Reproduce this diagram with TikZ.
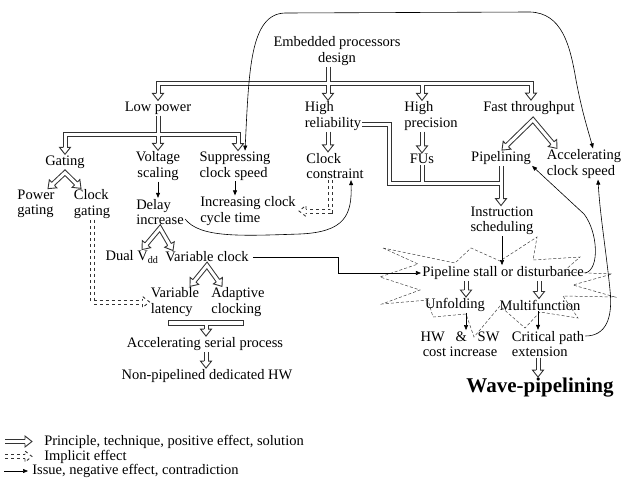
\documentclass[tikz,border=0pt]{standalone}
\usepackage{fontspec}
\setmainfont{Liberation Serif}
\usetikzlibrary{arrows.meta, calc}
\newcommand{\blk}[3][]{%
  \draw[dbl, #1, shorten >=4pt] #2 -- #3;
  \path let \p1=($#3-#2$) in pic[rotate={atan2(\y1,\x1)}, #1] at #3 {hhead};}
\newcommand{\fork}[3]{%
  \draw[dbl, shorten <=4pt, shorten >=4pt] #2 -- #1 -- #3;
  \path let \p1=($#2-#1$) in pic[rotate={atan2(\y1,\x1)}] at #2 {hhead};
  \path let \p1=($#3-#1$) in pic[rotate={atan2(\y1,\x1)}] at #3 {hhead};}

\begin{document}
\begin{tikzpicture}[x=1pt, y=-1pt, >={Triangle[length=5pt, width=4pt]}, line width=0.6pt,
    every node/.style={font=\fontsize{14.5}{15.5}\selectfont, inner sep=1pt, align=center},
    dbl/.style={draw=black!80, double=white, line width=1pt, double distance=3pt},
    hollowtip/.style={draw=black!80, fill=white, line width=0.9pt},
    barbox/.style={draw=black!80, line width=0.9pt},
    burst/.style={draw=black!75, dash pattern=on 3pt off 2pt, line width=0.5pt},
    hhead/.pic={\draw[hollowtip] (-7,2) -- (-7,5.5) -- (0,0) -- (-7,-5.5) -- (-7,-2);}]
    \useasboundingbox (0,0) rectangle (629,482);

    \node (emb) at (337,51) {Embedded processors\\design};
    \node (lowp) at (158,108) {Low power};
    \node[align=left] (hrel) at (333,116) {High\\reliability};
    \node[align=left] (hprec) at (431,116) {High\\precision};
    \node (fast) at (529,108) {Fast throughput};
    \node (gating) at (65,162) {Gating};
    \node (volt) at (158,166) {Voltage\\scaling};
    \node[align=left] (supp) at (235,166) {Suppressing\\clock speed};
    \node[align=left] (ccon) at (335,166) {Clock\\constraint};
    \node (fus) at (422,159) {FUs};
    \node (pipe) at (501,158) {Pipelining};
    \node[align=left] (accl) at (584,164) {Accelerating\\clock speed};
    \node[align=left] (pgat) at (36,204) {Power\\gating};
    \node[align=left] (cgat) at (92,204) {Clock\\gating};
    \node[align=left] (delay) at (160,212) {Delay\\increase};
    \node[align=left] (incr) at (248,211) {Increasing clock\\cycle time};
    \node (dual) at (132,257) {Dual V\textsubscript{dd}};
    \node (varc) at (207,257) {Variable clock};
    \node[align=left] (vlat) at (175,302) {Variable\\latency};
    \node[align=left] (adap) at (238,302) {Adaptive\\clocking};
    \node (accs) at (205,344) {Accelerating serial process};
    \node (nonp) at (207,376) {Non-pipelined dedicated HW};
    \node (instr) at (502,221) {Instruction\\scheduling};
    \node (stall) at (503,273) {Pipeline stall or disturbance};
    \node (unf) at (455,305) {Unfolding};
    \node (multi) at (540,305) {Multifunction};
    \node (hwsw) at (460,344) {HW\ \ \ \&\ \ \ SW\\cost increase};
    \node[align=left] (crit) at (548,344) {Critical path\\extension};
    \node[font=\fontsize{21}{24}\selectfont\bfseries] (wave) at (540,388) {Wave-pipelining};

    \draw[burst] (383,248) -- (455,263) -- (471,248) -- (500,261) -- (537,237) -- (533,260)
        -- (580,257) -- (563,272) -- (612,274) -- (573,285) -- (615,297) -- (563,296)
        -- (578,318) -- (540,312) -- (525,328) -- (500,306) -- (474,337) -- (466,314)
        -- (433,317) -- (428,300) -- (382,304) -- (420,290) -- (380,277) -- (418,264) -- cycle;

    \coordinate (tbus) at (328,83.5);
    \draw[dbl] ([xshift=-9pt]emb.south) -- (tbus)
        ([yshift=4pt]lowp.north) |- (tbus) -| ([xshift=2pt,yshift=4pt]fast.north)
        (tbus) -- ([xshift=-5pt,yshift=4pt]hrel.north)
        ([xshift=-9pt,yshift=4pt]hprec.north) |- (tbus);
    \pic[rotate=-90] at (lowp.north) {hhead};
    \pic[rotate=-90] at ([xshift=-5pt]hrel.north) {hhead};
    \pic[rotate=-90] at ([xshift=-9pt]hprec.north) {hhead};
    \pic[rotate=-90] at ([xshift=2pt]fast.north) {hhead};

    \coordinate (lbus) at (158,134.5);
    \draw[dbl] (lowp.south) -- (lbus)
        ([yshift=4pt]gating.north) |- (lbus) -| ([xshift=3pt,yshift=4pt]supp.north)
        (lbus) -- ([yshift=4pt]volt.north);
    \pic[rotate=-90] at (gating.north) {hhead};
    \pic[rotate=-90] at (volt.north) {hhead};
    \pic[rotate=-90] at ([xshift=3pt]supp.north) {hhead};

    \coordinate (rbus) at (389.5,183.5);
    \coordinate (ihead) at (pipe.south |- instr.north);
    \draw[dbl] ([yshift=-8pt]hrel.east) -| (rbus) -- (pipe.south |- rbus)
        (fus.south) -- (fus.south |- rbus)
        (pipe.south) -- ([yshift=4pt]ihead);
    \pic[rotate=-90] at (ihead) {hhead};

    \fork{([yshift=-3pt]gating.south)}{([xshift=12pt]pgat.north)}{([xshift=-11pt]cgat.north)}
    \fork{([yshift=-2pt]delay.south)}{([xshift=10pt]dual.north)}{([xshift=-34pt]varc.north)}
    \fork{([yshift=-2pt]varc.south)}{([xshift=15pt]vlat.north)}{([xshift=-16pt]adap.north)}
    \fork{([xshift=4pt,yshift=-4pt]fast.south)}{([xshift=1pt]pipe.north)}{([xshift=-27pt]accl.north)}

    \blk{([xshift=-5pt]hrel.south)}{([xshift=-5pt]hrel.south |- ccon.north)}
    \blk{(hprec.south -| fus.north)}{(fus.north)}
    \blk{([xshift=-37pt]stall.south)}{([xshift=-37pt]stall.south |- unf.north)}
    \blk{([xshift=36pt]stall.south)}{([xshift=36pt]stall.south |- multi.north)}
    \blk{([xshift=-10pt]crit.south)}{([xshift=-10pt]crit.south |- wave.north)}
    \draw[barbox] (168,320) rectangle (243,325);
    \coordinate (barmid) at (206,325);
    \blk{(barmid)}{(barmid |- accs.north)}
    \blk{([xshift=1pt]accs.south)}{([xshift=1pt]accs.south |- nonp.north)}

    \draw[dbl, dashed, shorten >=4pt] (cgat.south) |- (vlat.west);
    \pic[dashed] at (vlat.west) {hhead};
    \draw[dbl, dashed, shorten >=4pt] ([xshift=-5pt]ccon.south) |- (incr.east);
    \pic[rotate=180, dashed] at ([xshift=2pt]incr.east) {hhead};

    \draw[->] (volt.south) -- (volt.south |- delay.north);
    \draw[->] (supp.south) -- (supp.south |- incr.north);
    \draw[->] (instr.south) -- (instr.south |- stall.north);
    \draw[->] ([xshift=11pt]unf.south) -- ([xshift=11pt]unf.south |- hwsw.north);
    \draw[->] ([xshift=-2pt]multi.south) -- ([xshift=-2pt]multi.south |- crit.north);
    \coordinate (vbend) at (338,273);
    \draw[->] ([xshift=3pt]varc.east) -| (vbend) |- (stall.west);

    \draw[<->] ([xshift=10pt]supp.north) .. controls (249,70) and (250,14) .. (285,13) -- (530,12)
        .. controls (562,13) and (570,45) .. (576,80) .. controls (582,112) and (588,130) .. ([xshift=9pt]accl.north);
    \draw[->] ([yshift=-7pt]delay.east) .. controls (200,238) and (240,236) .. (300,234)
        .. controls (345,232) and (352,215) .. ([xshift=16pt]ccon.south);
    \draw[->] (stall.east) .. controls (600,270) and (598,232) .. (584,214) -- (pipe.south east);
    \draw[->] ([yshift=8pt]crit.east) .. controls (606,336) and (613,318) .. (610,290)
        .. controls (606,250) and (600,215) .. ([xshift=14pt]accl.south);

    \coordinate (k1) at (5,441.5);
    \coordinate (k2) at (5,456.5);
    \coordinate (k3) at (4,471);
    \node[anchor=west] (lg1) at (43,441.5) {Principle, technique, positive effect, solution};
    \node[anchor=west] (lg2) at (43,456.5) {Implicit effect};
    \node[anchor=west] (lg3) at (31,471) {Issue, negative effect, contradiction};
    \blk{(k1)}{([xshift=-11pt]lg1.west)}
    \blk[dashed]{(k2)}{([xshift=-11pt]lg2.west)}
    \draw[->] (k3) -- ([xshift=-3pt]lg3.west);
\end{tikzpicture}
\end{document}
